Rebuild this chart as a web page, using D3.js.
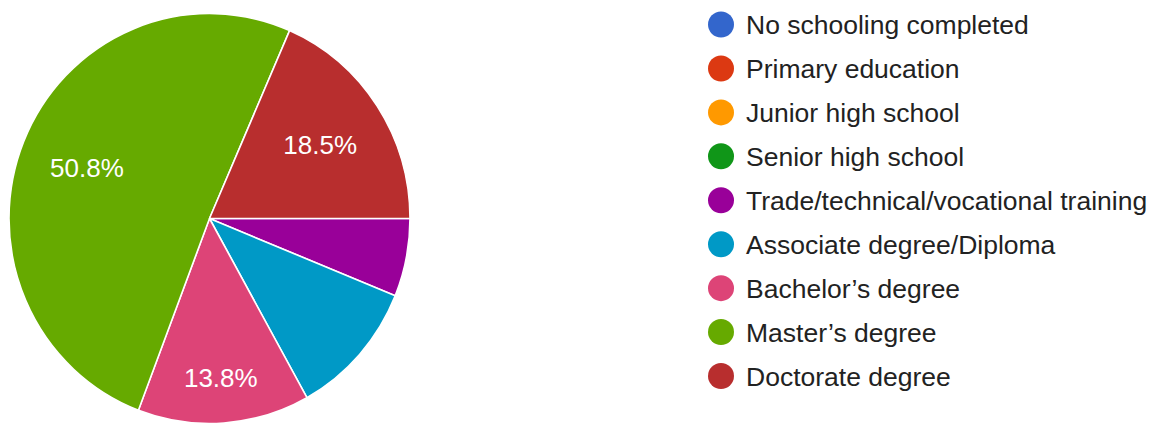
<!DOCTYPE html>
<html>
<head>
<meta charset="utf-8">
<script src="https://cdn.jsdelivr.net/npm/d3@7"></script>
<style>
  html, body { margin: 0; padding: 0; background: #fff; }
  svg { display: block; font-family: "Liberation Sans", Arial, sans-serif; }
</style>
</head>
<body>
<svg id="chart" width="1166" height="423"></svg>
<script>
// Highest level of education completed (responses)
const categories = [
  "No schooling completed",
  "Primary education",
  "Junior high school",
  "Senior high school",
  "Trade/technical/vocational training",
  "Associate degree/Diploma",
  "Bachelor\u2019s degree",
  "Master\u2019s degree",
  "Doctorate degree"
];
const counts = [0, 0, 0, 0, 4, 7, 9, 33, 12];
const colors = ["#3366cc", "#dc3912", "#ff9900", "#109618", "#990099",
                "#0099c6", "#dd4477", "#66aa00", "#b82e2e"];

const svg = d3.select("#chart");

// Pie geometry
const cx = 209.5, cy = 218.5, rx = 200.5, ry = 205;
const ky = ry / rx;
const total = d3.sum(counts);
const fmt = d3.format(".1%");

const pie = d3.pie()
  .sort(null)
  .value(d => d.value)
  .startAngle(Math.PI / 2)
  .endAngle(Math.PI / 2 + 2 * Math.PI);

const data = categories.map((c, i) => ({ name: c, value: counts[i], color: colors[i] }));
const arcs = pie(data).filter(a => a.data.value > 0);

const arc = d3.arc().innerRadius(0).outerRadius(rx);

const g = svg.append("g")
  .attr("transform", `translate(${cx},${cy}) scale(1,${ky})`);

g.selectAll("path.slice")
  .data(arcs)
  .join("path")
  .attr("class", "slice")
  .attr("d", arc)
  .attr("fill", d => d.data.color)
  .attr("stroke", "#fff")
  .attr("stroke-width", 1.6)
  .attr("stroke-linejoin", "round");

// Percentage labels: placed along each slice's bisector where the
// text box keeps the widest margin from the slice edges.
const labelSize = 26;
const boxW = 73, boxH = 20;
function labelDistance(a) {
  const span = a.endAngle - a.startAngle;
  const mid = (a.startAngle + a.endAngle) / 2;
  const ux = Math.sin(mid), uy = -Math.cos(mid);
  // edge lines through the centre (as unit normals pointing inward)
  const n1 = [Math.cos(a.startAngle), Math.sin(a.startAngle)];
  const n2 = [-Math.cos(a.endAngle), -Math.sin(a.endAngle)];
  let best = 0.67 * rx, bestM = -Infinity;
  for (let d = 0.66 * rx; d <= 0.92 * rx; d += 1) {
    const px = ux * d, py = uy * d;
    let m = Infinity;
    for (const sx of [-1, 1]) for (const sy of [-1, 1]) {
      const qx = px + sx * boxW / 2, qy = py + sy * boxH / 2;
      m = Math.min(m, rx - Math.hypot(qx, qy));
      if (span < Math.PI) {
        m = Math.min(m, qx * n1[0] + qy * n1[1], qx * n2[0] + qy * n2[1]);
      }
    }
    if (m > bestM) { bestM = m; best = d; }
  }
  return [ux * best, uy * best];
}

svg.append("g")
  .selectAll("text")
  .data(arcs.filter(a => a.data.value / total >= 0.12))
  .join("text")
  .each(function (a) {
    const [x, y] = labelDistance(a);
    d3.select(this)
      .attr("x", cx + x)
      .attr("y", cy + y * ky)
      .attr("dy", "0.36em");
  })
  .attr("text-anchor", "middle")
  .attr("font-size", labelSize)
  .attr("fill", "#fff")
  .text(a => fmt(a.data.value / total));

// Legend
const legendY = d3.scalePoint()
  .domain(categories)
  .range([24.5, 376])
  .padding(0);

const legend = svg.append("g")
  .selectAll("g")
  .data(data)
  .join("g")
  .attr("transform", d => `translate(721,${legendY(d.name)})`);

legend.append("circle")
  .attr("r", 13)
  .attr("fill", d => d.color);

legend.append("text")
  .attr("x", 25)
  .attr("dy", "0.36em")
  .attr("font-size", 26.5)
  .attr("fill", "#222")
  .text(d => d.name);
</script>
</body>
</html>
